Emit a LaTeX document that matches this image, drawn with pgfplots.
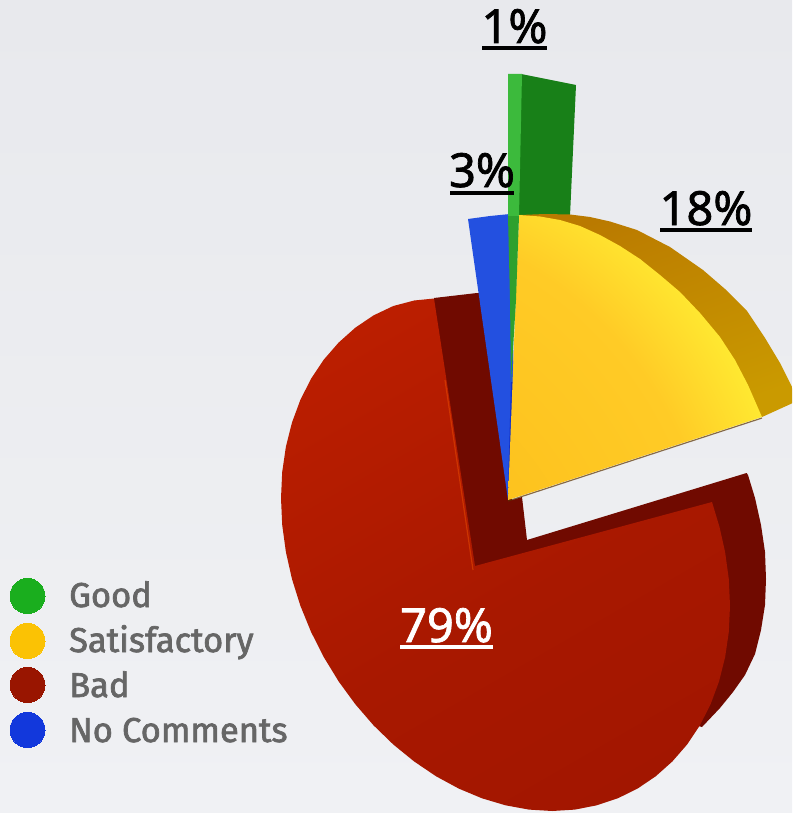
\documentclass[border=0pt]{standalone}
\usepackage{pgfplots}
\pgfplotsset{compat=1.18}
\usepackage{fontspec}
\setmainfont{Noto Sans}
\newfontfamily\legendfamily{Fira Sans}[FakeBold=2]
\newfontfamily\pctfamily{Noto Sans}[FakeBold=1.5]
\definecolor{legG}{HTML}{1AAE1E}
\definecolor{legY}{HTML}{FBC204}
\definecolor{legR}{HTML}{991500}
\definecolor{legB}{HTML}{1238DC}
\definecolor{legendtext}{HTML}{666666}
\definecolor{yelA}{HTML}{F8C60C}\definecolor{yelB}{HTML}{FCBE1A}\definecolor{yelC}{HTML}{FFCB26}
\definecolor{yelD}{HTML}{FFEE33}\definecolor{yelE}{HTML}{FFF536}
\definecolor{bgtop}{RGB}{232,233,237}\definecolor{bgbot}{RGB}{240,241,244}
\definecolor{redwall}{RGB}{112,10,0}
\definecolor{redA}{HTML}{9C1400}\definecolor{redB}{HTML}{A81800}\definecolor{redC}{HTML}{C82200}
\definecolor{redline}{RGB}{226,70,0}
\definecolor{blueface}{RGB}{35,80,224}\definecolor{bluedeep}{RGB}{18,48,200}
\definecolor{greenside}{RGB}{24,128,24}\definecolor{greenlight}{RGB}{60,186,60}\definecolor{greenthin}{RGB}{46,160,46}
\definecolor{rimA}{RGB}{186,122,0}\definecolor{rimB}{RGB}{202,154,0}
\definecolor{edgebrown}{RGB}{90,50,0}
\pgfdeclareradialshading{sliceface}{\pgfpoint{-70bp}{-60bp}}{color(0bp)=(yelA); color(30bp)=(yelB); color(70bp)=(yelC); color(85bp)=(yelD); color(91bp)=(yelE); color(300bp)=(yelE)}
\pgfdeclareverticalshading{bigface}{100bp}{color(0bp)=(redA); color(45bp)=(redB); color(100bp)=(redC)}
\newcommand{\legendfont}{\legendfamily\fontsize{34.5}{34.5}\selectfont}
\newcommand{\pctfont}{\pctfamily\fontsize{47}{47}\selectfont}
\tikzset{legtext/.style={anchor=base west, inner sep=0pt, text=legendtext},
         pct/.style={anchor=base, inner sep=0pt}}
\begin{document}
\begin{tikzpicture}
\begin{axis}[
  scale only axis, width=792pt, height=813pt,
  xmin=0, xmax=792, ymin=0, ymax=813, y dir=reverse,
  hide axis]

% page background
\addplot[draw=none, top color=bgtop, bottom color=bgbot] coordinates {(0,0)(792,0)(792,813)(0,813)(0,0)};

% red slice: side wall and rim
\addplot[draw=none, fill=redwall] coordinates {
 (434,298)(477,293)(492,293)(512,500)(522,497)(527,540)(746.6,473)(748,475)(755,498)(761,525)(765,552)(766,579)(765,605)
 (761,630)(755,654)(745,675)(733,692)(720,708)(702,727)(600,700)(434,600)(434,298)};

% red slice: front face
\addplot[draw=none, shading=bigface, shading angle=30] coordinates {
 (434,298.5)(475,566)(712,502)(719.5,527)(725.1,552)(728.8,579.1)(730,605.8)(728.8,632)(725.1,657.3)(719,681.5)(710.6,704.2)
 (699.9,725.3)(687.1,744.5)(672.3,761.5)(655.7,776.3)(637.5,788.6)(617.8,798.3)(596.8,805.3)(574.9,809.6)(552.2,811)(529,809.6)
 (505.5,805.3)(482,798.3)(458.8,788.6)(436.1,776.3)(414.2,761.5)(393.3,744.5)(373.5,725.3)(355.3,704.2)(338.7,681.5)(323.9,657.3)
 (311.1,632)(300.4,605.8)(292,579.1)(285.9,552)(282.2,524.9)(281,498.2)(282.2,472)(285.9,446.7)(292,422.5)(300.4,399.8)
 (311.1,378.7)(323.9,359.5)(338.7,342.5)(355.3,327.7)(373.5,315.4)(393.3,306)(414.2,300.5)(434,298.5)};

% highlight along the inner edge of the red face
\addplot[color=redline, line width=1.2pt, opacity=0.6] coordinates {(445,380)(473,570)};

% blue slice
\addplot[draw=none, fill=blueface] coordinates {(468,219)(490,216)(510,214)(514,382)(508,500)(468,219)};
\addplot[draw=none, fill=bluedeep] coordinates {(511,382)(516,382)(508,490)};

% green slice
\addplot[draw=none, fill=greenside] coordinates {(521,74)(576,85)(570,216)(518,216)(521,74)};
\addplot[draw=none, fill=greenlight] coordinates {(508,74)(522,74)(519,216)(508,216)(508,74)};

% yellow slice: rim
\addplot[draw=none, left color=rimA, right color=rimB, shading angle=20] coordinates {
 (520,215)(545,214)(570,214.5)(590,217)(610,221.5)(637,230)(670,247)(703,270)(725,289)(747,311)(765,338)(780,363)(795,393)
 (795,402)(762,417)(640,259)(520,215)};

% yellow slice: front face
\addplot[color=edgebrown, line width=1.2pt, opacity=0.7] coordinates {(762,418)(508,501)};
\addplot[draw=none, shading=sliceface] coordinates {
 (519,215)(540,216.5)(560,220)(580,226)(600,235)(620,246)(640,259)(660,275)(680,292)(700,313)(720,337)(735,360)(748,385)(762,417)
 (508,500)(519,215)};

% green sliver running down between blue and yellow
\addplot[draw=none, fill=greenthin] coordinates {(508,216)(519,216)(516,300)(511,382)(510,300)(508,216)};

% legend markers
\addplot[only marks, mark=*, mark size=17.5pt, mark options={solid, draw=legG, line width=0pt, fill=legG}] coordinates {(27.5,596)};
\addplot[only marks, mark=*, mark size=17.5pt, mark options={solid, draw=legY, line width=0pt, fill=legY}] coordinates {(27.5,641)};
\addplot[only marks, mark=*, mark size=17.5pt, mark options={solid, draw=legR, line width=0pt, fill=legR}] coordinates {(27.5,685)};
\addplot[only marks, mark=*, mark size=17.5pt, mark options={solid, draw=legB, line width=0pt, fill=legB}] coordinates {(27.5,730)};

% legend texts
\node[legtext] at (axis cs:69,607) {\legendfont Good};
\node[legtext] at (axis cs:69,652) {\legendfont Satisfactory};
\node[legtext] at (axis cs:69,697) {\legendfont Bad};
\node[legtext] at (axis cs:69,742) {\legendfont No Comments};

% percentage labels with their rules
\node[pct] at (axis cs:514.5,43) {\pctfont 1\%};
\addplot[black, line width=3.6pt] coordinates {(482,48)(547,48)};
\node[pct] at (axis cs:482,187) {\pctfont 3\%};
\addplot[black, line width=3.6pt] coordinates {(450,193)(514,193)};
\node[pct] at (axis cs:706,225) {\pctfont 18\%};
\addplot[black, line width=3.6pt] coordinates {(660,230)(752,230)};
\node[pct, text=white] at (axis cs:446.5,642) {\pctfont 79\%};
\addplot[white, line width=3.6pt] coordinates {(400,647)(493,647)};
\end{axis}
\end{tikzpicture}
\end{document}
